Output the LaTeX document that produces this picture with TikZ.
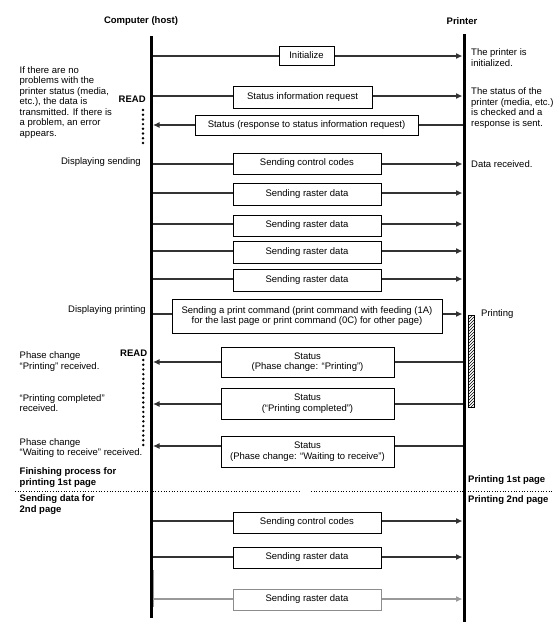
\documentclass[tikz,border=0pt]{standalone}
\usepackage{fontspec}
\setmainfont{Liberation Sans}
\usetikzlibrary{arrows.meta,patterns}
\begin{document}
\begin{tikzpicture}[x=1pt,y=-1pt,
  every node/.style={font=\fontsize{9.5}{10.5}\selectfont},
  lifeline/.style={line width=3pt},
  msg/.style={draw=black!80, line width=1.1pt, -{Latex[length=6.5pt,width=6pt]}},
  graymsg/.style={draw=black!40, line width=1.1pt, -{Latex[length=6.5pt,width=6pt]}},
  msgbox/.style={draw, line width=0.7pt, fill=white, inner sep=0pt, align=center},
  graybox/.style={msgbox, draw=black!45},
  lefttext/.style={anchor=west, align=left, inner sep=0pt},
  righttext/.style={anchor=west, align=left, inner sep=0pt},
  boldtext/.style={anchor=west, align=left, inner sep=0pt, font=\fontsize{9.5}{10.5}\selectfont\bfseries},
  readdot/.style={fill=black, circle, inner sep=0pt, minimum size=2.7pt}
]
\useasboundingbox (0,0) rectangle (555,635);

% headers
\node[font=\fontsize{9.5}{10.5}\selectfont\bfseries] (hhost) at (141,21) {Computer (host)};
\node[font=\fontsize{9.5}{10.5}\selectfont\bfseries] (hprinter) at (462,21) {Printer};

% lifelines
\coordinate (htop) at (151.5,36);
\coordinate (hbot) at (151.5,618);
\coordinate (ptop) at (464,34);
\coordinate (pbot) at (464,622);
\draw[lifeline] (htop) -- (hbot);
\draw[lifeline] (ptop) -- (pbot);
\coordinate (gtop) at (153.5,570);
\coordinate (gbot) at (153.5,607);
\draw[black!40, line width=0.9pt] (gtop) -- (gbot);

% message end points
\foreach \n/\y in {a/56,b/96,c/125,d/164,e/193,f/224,g/251,h/279,i/314,j/362,k/404,l/446,m/521,n/557,o/599}{
  \coordinate (h\n) at (153,\y);
  \coordinate (p\n) at (462.5,\y);
}

% messages
\draw[msg] (ha) -- (pa);
\draw[msg] (hb) -- (pb);
\draw[msg] (pc) -- (hc);
\draw[msg] (hd) -- (pd);
\draw[msg] (he) -- (pe);
\draw[msg] (hf) -- (pf);
\draw[msg] (hg) -- (pg);
\draw[msg] (hh) -- (ph);
\draw[msg] (hi) -- (pi);
\draw[msg] (pj) -- (hj);
\draw[msg] (pk) -- (hk);
\draw[msg] (pl) -- (hl);
\draw[msg] (hm) -- (pm);
\draw[msg] (hn) -- (pn);
\draw[graymsg] (ho) -- (po);

% boxes
\node[msgbox, minimum width=55pt, minimum height=19pt] (ba) at (306.5,55.5) {Initialize};
\node[msgbox, minimum width=139pt, minimum height=22pt] (bb) at (302.5,97) {Status information request};
\node[msgbox, minimum width=223pt, minimum height=20pt] (bc) at (306.5,125) {Status (response to status information request)};
\node[msgbox, minimum width=148pt, minimum height=21pt] (bd) at (307,163.5) {Sending control codes};
\node[msgbox, minimum width=148pt, minimum height=22pt] (be) at (307,194) {Sending raster data};
\node[msgbox, minimum width=148pt, minimum height=21pt] (bf) at (307,225.5) {Sending raster data};
\node[msgbox, minimum width=148pt, minimum height=22pt] (bg) at (307,252) {Sending raster data};
\node[msgbox, minimum width=148pt, minimum height=22pt] (bh) at (307,280) {Sending raster data};
\node[msgbox, minimum width=270pt, minimum height=34pt] (bi) at (307,316) {Sending a print command (print command with feeding (1A)\\for the last page or print command (0C) for other page)};
\node[msgbox, minimum width=173pt, minimum height=30pt] (bj) at (307.5,362) {Status\\(Phase change: ``Printing'')};
\node[msgbox, minimum width=173pt, minimum height=31pt] (bk) at (307.5,403.5) {Status\\(``Printing completed'')};
\node[msgbox, minimum width=173pt, minimum height=31pt] (bl) at (307.5,451.5) {Status\\(Phase change: ``Waiting to receive'')};
\node[msgbox, minimum width=148pt, minimum height=21pt] (bm) at (307,522.5) {Sending control codes};
\node[msgbox, minimum width=148pt, minimum height=21pt] (bn) at (307,557.5) {Sending raster data};
\node[graybox, minimum width=148pt, minimum height=21pt] (bo) at (307,599.5) {Sending raster data};

% left texts
\node[lefttext] (t1) at (19.5,102.5) {If there are no\\problems with the\\printer status (media,\\etc.), the data is\\transmitted. If there is\\a problem, an error\\appears.};
\node[boldtext] (read1) at (118.5,99) {READ};
\foreach \k in {0,...,7}{ \node[readdot] (rd\k) at (143,110+4.7*\k) {}; }
\node[anchor=east, inner sep=0pt] (t2) at (141,162) {Displaying sending};
\node[anchor=east, inner sep=0pt] (t3) at (146,310) {Displaying printing};
\node[boldtext] (read2) at (120,353) {READ};
\foreach \k in {0,...,18}{ \node[readdot] (re\k) at (143.3,360+4.72*\k) {}; }
\node[lefttext] (t4) at (19.5,361.5) {Phase change\\``Printing'' received.};
\node[lefttext] (t5) at (19.5,403) {``Printing completed''\\received.};
\node[lefttext] (t6) at (19.5,448) {Phase change\\``Waiting to receive'' received.};
\node[boldtext] (t7) at (19.5,477.5) {Finishing process for\\printing 1st page};
\node[boldtext] (t8) at (19.5,504.5) {Sending data for\\2nd page};

% right texts
\node[righttext] (r1) at (471,57.5) {The printer is\\initialized.};
\node[righttext] (r2) at (471,108) {The status of the\\printer (media, etc.)\\is checked and a\\response is sent.};
\node[righttext] (r3) at (471,164) {Data received.};
\node[righttext] (r4) at (481,314) {Printing};
\node[boldtext] (r5) at (468,480) {Printing 1st page};
\node[boldtext] (r6) at (468,500) {Printing 2nd page};

% printing bar
\node[draw, line width=0.6pt, pattern=north east lines, minimum width=6pt, minimum height=92pt, inner sep=0pt] (bar) at (471,361) {};

% page separator
\coordinate (s1) at (15,491);
\coordinate (s2) at (300,491);
\coordinate (s3) at (311,491);
\coordinate (s4) at (552,491);
\draw[dotted, line width=0.7pt] (s1) -- (s2);
\draw[dotted, line width=0.7pt] (s3) -- (s4);
\end{tikzpicture}
\end{document}
